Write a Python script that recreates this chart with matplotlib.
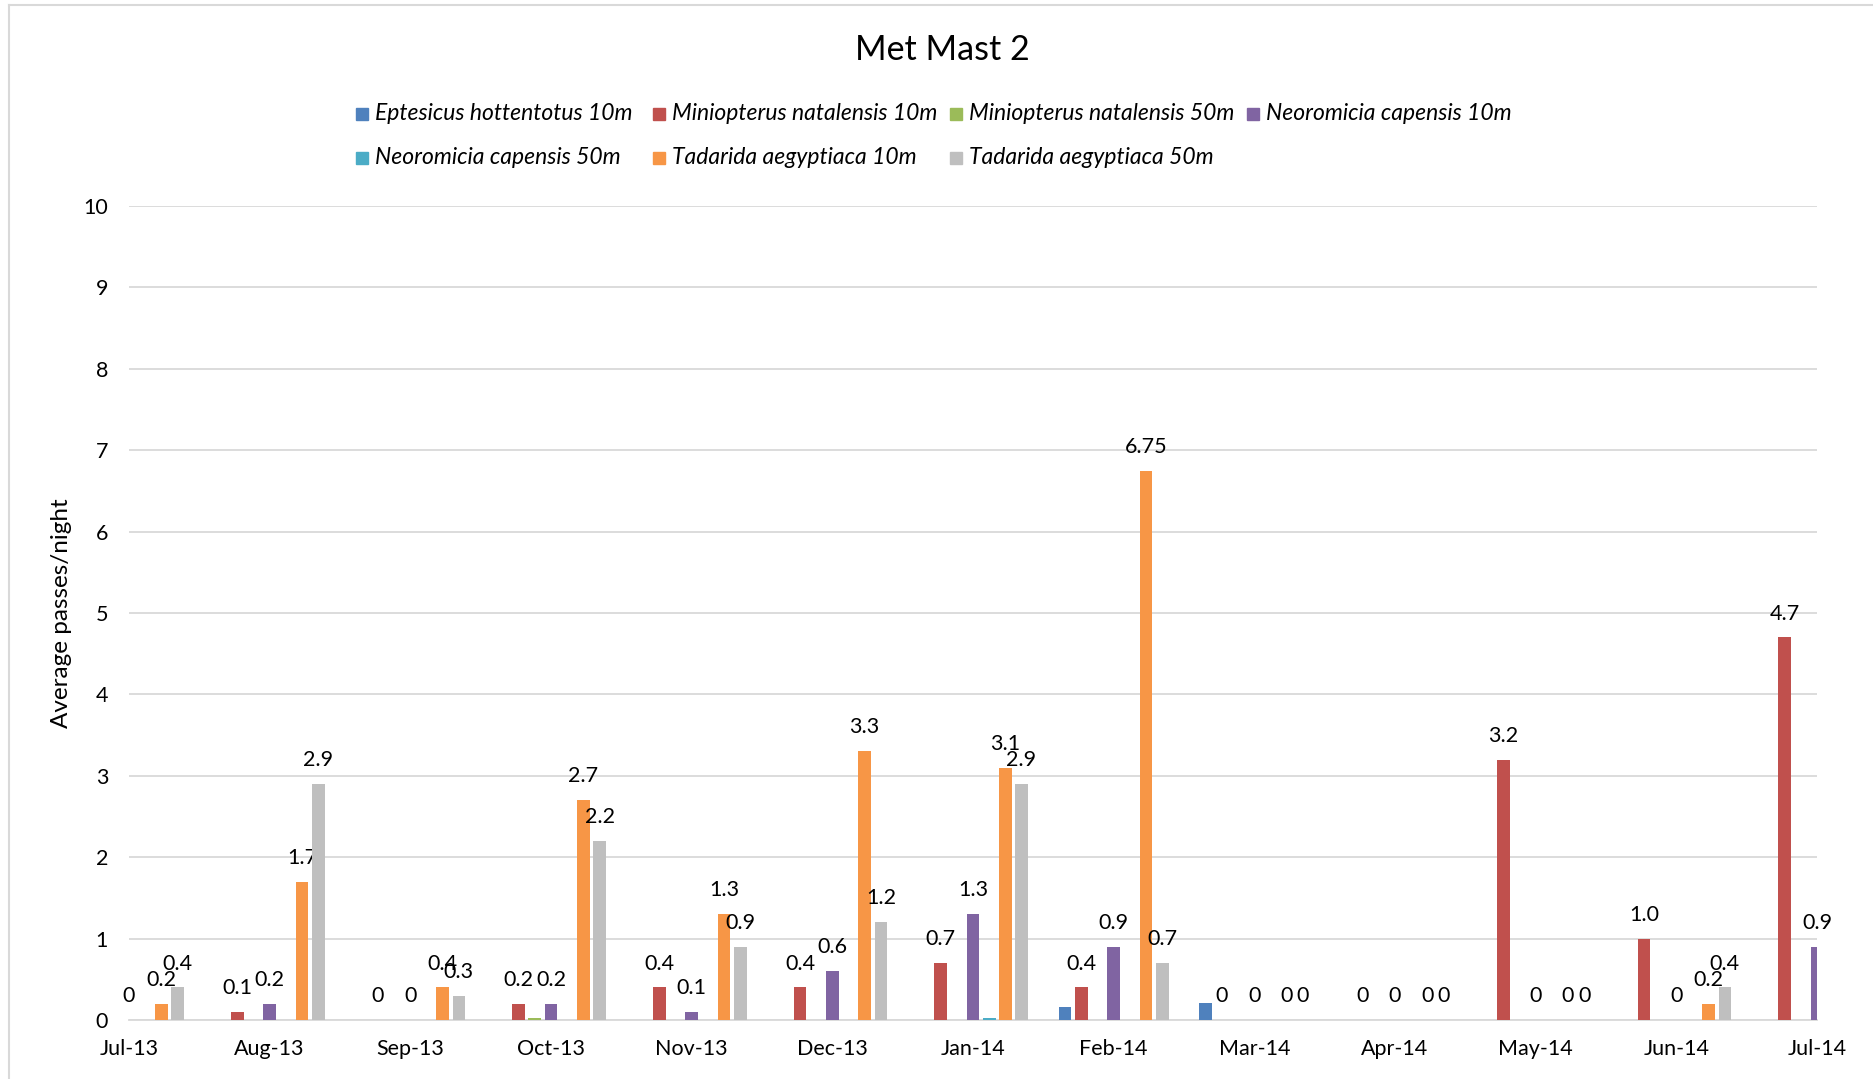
import numpy as np
import matplotlib
matplotlib.use("Agg")
import matplotlib.pyplot as plt
from matplotlib.patches import Rectangle
from matplotlib.lines import Line2D

plt.rcParams['font.family'] = ['Lato', 'DejaVu Sans']

months = ["Jul-13", "Aug-13", "Sep-13", "Oct-13", "Nov-13", "Dec-13", "Jan-14",
          "Feb-14", "Mar-14", "Apr-14", "May-14", "Jun-14", "Jul-14"]

series = ["Eptesicus hottentotus 10m", "Miniopterus natalensis 10m",
          "Miniopterus natalensis 50m", "Neoromicia capensis 10m",
          "Neoromicia capensis 50m", "Tadarida aegyptiaca 10m",
          "Tadarida aegyptiaca 50m"]

eptesicus_10 = [0, 0, 0, 0, 0, 0, 0, 0.16, 0.21, 0, 0, 0, 0]
miniopterus_10 = [0, 0.1, 0, 0.2, 0.4, 0.4, 0.7, 0.4, 0, 0, 3.2, 1.0, 4.7]
miniopterus_50 = [0, 0, 0, 0.03, 0, 0, 0, 0, 0, 0, 0, 0, 0]
neoromicia_10 = [0, 0.2, 0, 0.2, 0.1, 0.6, 1.3, 0.9, 0, 0, 0, 0, 0.9]
neoromicia_50 = [0, 0, 0, 0, 0, 0, 0.03, 0, 0, 0, 0, 0, 0]
tadarida_10 = [0.2, 1.7, 0.4, 2.7, 1.3, 3.3, 3.1, 6.75, 0, 0, 0, 0.2, 0]
tadarida_50 = [0.4, 2.9, 0.3, 2.2, 0.9, 1.2, 2.9, 0.7, 0, 0, 0, 0.4, 0]

values = [eptesicus_10, miniopterus_10, miniopterus_50, neoromicia_10,
          neoromicia_50, tadarida_10, tadarida_50]
colors = ["#4F81BD", "#C0504D", "#9BBB59", "#8064A2", "#4BACC6", "#F79646", "#BFBFBF"]
# only these series carry value labels
labelled = [False, True, False, True, False, True, True]


def fmt(v):
    if v == 0:
        return "0"
    if round(v, 1) == v:
        return "%.1f" % v
    return "%.2f" % v


fig = plt.figure(figsize=(18.74, 10.79), dpi=100)
ax = fig.add_axes([129 / 1874, 59 / 1079, 1688 / 1874, 814 / 1079])

x = np.arange(len(months))
slot = 0.115
width = 0.09
for i, (vals, col) in enumerate(zip(values, colors)):
    pos = x + (i - 3) * slot
    ax.bar(pos, vals, width=width, color=col, zorder=3)
    if labelled[i]:
        for px, v in zip(pos, vals):
            t = ax.annotate(fmt(v), (px, v), xytext=(0, 10), textcoords="offset points",
                            ha="center", va="bottom", fontsize=15.5, color="#000000")
            t.set_clip_on(True)

ax.set_xlim(0, len(months) - 1)
ax.set_ylim(0, 10)
ax.set_xticks(x)
ax.set_xticklabels(months)
ax.set_yticks(range(0, 11))
ax.tick_params(axis="both", length=0, labelsize=15.5)
ax.tick_params(axis="x", pad=14)
ax.tick_params(axis="y", pad=15)
ax.grid(axis="y", color="#D9D9D9", linewidth=1.3, zorder=0)
for s in ["top", "right", "left"]:
    ax.spines[s].set_visible(False)
ax.spines["bottom"].set_color("#D9D9D9")
ax.spines["bottom"].set_linewidth(1.3)
ax.set_ylabel("Average passes/night", fontsize=17.5)
ax.yaxis.set_label_coords(-57 / 1688, 0.5)

fig.text(0.503, 1 - 50 / 1079, "Met Mast 2", ha="center", va="center", fontsize=24.5)

# legend laid out in fixed-width columns
for i, (name, col) in enumerate(zip(series, colors)):
    row, c = divmod(i, 4)
    x0 = 356 + c * 297
    yc = 114 + row * 44
    fig.patches.append(Rectangle((x0 / 1874, 1 - (yc + 6) / 1079), 12 / 1874, 12 / 1079,
                                 transform=fig.transFigure, color=col))
    fig.text((x0 + 19) / 1874, 1 - yc / 1079, name, ha="left", va="center",
             fontsize=16.5, style="italic")

# chart frame
fig.add_artist(Line2D([9 / 1874, 1], [1 - 5 / 1079, 1 - 5 / 1079], color="#D9D9D9",
                      linewidth=1.5, transform=fig.transFigure))
fig.add_artist(Line2D([9 / 1874, 9 / 1874], [0, 1 - 5 / 1079], color="#D9D9D9",
                      linewidth=1.5, transform=fig.transFigure))

fig.savefig("out.png", dpi=100)
